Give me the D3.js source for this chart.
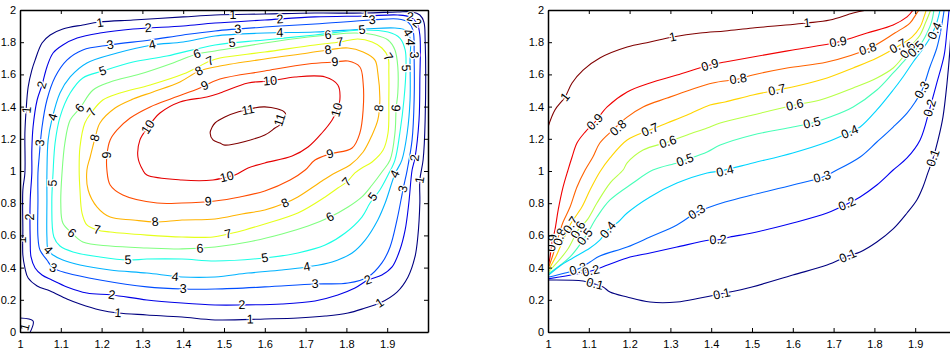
<!DOCTYPE html>
<html>
<head>
<meta charset="utf-8">
<script src="https://cdnjs.cloudflare.com/ajax/libs/d3/7.8.5/d3.min.js"></script>
<style>
  body { margin: 0; background: #fff; }
  text { font-family: "Liberation Sans", Arial, Helvetica, sans-serif; }
</style>
</head>
<body>
<script>
// ticks shared by both panels
var xTicks = [1, 1.1, 1.2, 1.3, 1.4, 1.5, 1.6, 1.7, 1.8, 1.9, 2];
var xTickLabels = ["1", "1.1", "1.2", "1.3", "1.4", "1.5", "1.6", "1.7", "1.8", "1.9", ""];
var yTicks = [0, 0.2, 0.4, 0.6, 0.8, 1, 1.2, 1.4, 1.6, 1.8, 2];
var yTickLabels = ["0", "0.2", "0.4", "0.6", "0.8", "1", "1.2", "1.4", "1.6", "1.8", "2"];

// left panel contour lines (x, y), all closed loops
var left1 = [[1.012,0.988],[1.012,1.236],[1.015,1.379],[1.020,1.522],[1.029,1.627],[1.037,1.689],[1.054,1.795],[1.074,1.845],[1.105,1.882],[1.154,1.907],[1.196,1.925],[1.277,1.938],[1.400,1.957],[1.478,1.969],[1.600,1.975],[1.723,1.981],[1.846,1.981],[1.926,1.988],[1.961,1.988],[1.980,1.969],[1.990,1.925],[1.993,1.814],[1.993,1.317],[1.988,1.068],[1.980,0.944],[1.980,0.801],[1.975,0.590],[1.968,0.466],[1.951,0.342],[1.924,0.248],[1.882,0.180],[1.846,0.149],[1.804,0.118],[1.748,0.099],[1.681,0.087],[1.600,0.081],[1.478,0.075],[1.397,0.093],[1.311,0.106],[1.240,0.118],[1.196,0.137],[1.147,0.174],[1.115,0.205],[1.074,0.255],[1.042,0.286],[1.020,0.335],[1.012,0.398],[1.007,0.478],[1.007,0.634],[1.007,0.882]];
var left1corner = [[1.000,0.087],[1.032,0.068],[1.025,0.000]];
var left2 = [[1.029,0.988],[1.029,1.130],[1.032,1.273],[1.042,1.441],[1.054,1.534],[1.066,1.646],[1.081,1.733],[1.105,1.783],[1.140,1.826],[1.196,1.857],[1.277,1.882],[1.400,1.901],[1.478,1.919],[1.600,1.938],[1.723,1.957],[1.846,1.963],[1.926,1.969],[1.956,1.957],[1.973,1.919],[1.980,1.845],[1.980,1.565],[1.978,1.317],[1.968,1.081],[1.961,1.006],[1.953,0.801],[1.944,0.634],[1.931,0.509],[1.912,0.404],[1.887,0.354],[1.853,0.323],[1.821,0.273],[1.779,0.230],[1.723,0.193],[1.642,0.174],[1.544,0.168],[1.478,0.168],[1.397,0.180],[1.311,0.199],[1.225,0.230],[1.164,0.242],[1.115,0.280],[1.078,0.323],[1.054,0.354],[1.037,0.398],[1.027,0.466],[1.025,0.571],[1.025,0.820]];
var left3 = [[1.044,0.988],[1.047,1.087],[1.054,1.273],[1.066,1.441],[1.086,1.584],[1.115,1.689],[1.154,1.752],[1.221,1.783],[1.319,1.814],[1.400,1.845],[1.478,1.870],[1.600,1.894],[1.723,1.913],[1.863,1.938],[1.926,1.944],[1.951,1.925],[1.963,1.876],[1.966,1.702],[1.966,1.441],[1.961,1.193],[1.949,1.006],[1.939,0.888],[1.924,0.696],[1.907,0.528],[1.887,0.429],[1.853,0.342],[1.804,0.304],[1.723,0.298],[1.600,0.280],[1.478,0.267],[1.400,0.267],[1.311,0.280],[1.196,0.323],[1.115,0.366],[1.081,0.398],[1.066,0.447],[1.049,0.509],[1.044,0.590],[1.044,0.820]];
var left4 = [[1.066,0.988],[1.069,1.193],[1.078,1.317],[1.098,1.484],[1.123,1.584],[1.164,1.671],[1.238,1.733],[1.324,1.783],[1.400,1.801],[1.478,1.839],[1.600,1.857],[1.723,1.863],[1.846,1.882],[1.919,1.888],[1.944,1.876],[1.956,1.826],[1.956,1.689],[1.956,1.441],[1.949,1.236],[1.936,1.068],[1.919,0.981],[1.895,0.801],[1.877,0.696],[1.846,0.571],[1.814,0.491],[1.765,0.435],[1.703,0.404],[1.642,0.385],[1.559,0.366],[1.478,0.342],[1.397,0.342],[1.311,0.366],[1.221,0.385],[1.147,0.416],[1.105,0.447],[1.081,0.478],[1.069,0.509],[1.066,0.590],[1.066,0.820]];
var left5 = [[1.081,0.988],[1.086,1.174],[1.098,1.335],[1.123,1.484],[1.154,1.578],[1.203,1.621],[1.277,1.677],[1.360,1.714],[1.478,1.783],[1.600,1.814],[1.723,1.845],[1.838,1.876],[1.902,1.863],[1.931,1.826],[1.944,1.752],[1.946,1.640],[1.941,1.441],[1.931,1.236],[1.919,1.068],[1.902,0.975],[1.882,0.882],[1.858,0.801],[1.838,0.714],[1.797,0.615],[1.748,0.540],[1.681,0.491],[1.600,0.460],[1.478,0.441],[1.397,0.453],[1.311,0.453],[1.265,0.447],[1.196,0.466],[1.130,0.497],[1.098,0.534],[1.083,0.590],[1.078,0.801]];
var left6 = [[1.103,0.988],[1.110,1.174],[1.123,1.317],[1.147,1.391],[1.179,1.503],[1.221,1.553],[1.294,1.602],[1.375,1.671],[1.434,1.727],[1.478,1.745],[1.600,1.795],[1.706,1.832],[1.755,1.845],[1.821,1.857],[1.870,1.845],[1.902,1.814],[1.919,1.752],[1.926,1.646],[1.926,1.484],[1.922,1.391],[1.919,1.236],[1.907,1.068],[1.887,0.994],[1.863,0.913],[1.838,0.839],[1.804,0.776],[1.760,0.714],[1.706,0.658],[1.642,0.609],[1.559,0.559],[1.478,0.528],[1.397,0.516],[1.311,0.522],[1.221,0.534],[1.154,0.559],[1.127,0.615],[1.105,0.677],[1.100,0.801]];
var left7 = [[1.145,1.006],[1.147,1.149],[1.159,1.298],[1.176,1.366],[1.203,1.441],[1.245,1.484],[1.319,1.534],[1.400,1.602],[1.466,1.683],[1.490,1.702],[1.600,1.739],[1.723,1.783],[1.784,1.801],[1.828,1.820],[1.863,1.801],[1.887,1.764],[1.902,1.708],[1.904,1.609],[1.904,1.441],[1.902,1.236],[1.890,1.130],[1.863,1.056],[1.838,1.019],[1.821,0.988],[1.801,0.932],[1.779,0.894],[1.748,0.839],[1.681,0.739],[1.600,0.671],[1.551,0.634],[1.510,0.609],[1.473,0.590],[1.397,0.590],[1.311,0.602],[1.221,0.621],[1.189,0.634],[1.164,0.665],[1.152,0.739],[1.147,0.882]];
var left8 = [[1.164,1.006],[1.172,1.087],[1.184,1.205],[1.196,1.298],[1.233,1.391],[1.277,1.447],[1.326,1.491],[1.392,1.553],[1.439,1.621],[1.490,1.652],[1.600,1.696],[1.706,1.733],[1.755,1.752],[1.804,1.764],[1.841,1.739],[1.870,1.689],[1.877,1.609],[1.882,1.441],[1.877,1.317],[1.863,1.224],[1.841,1.118],[1.809,1.037],[1.772,0.988],[1.740,0.938],[1.681,0.839],[1.650,0.801],[1.600,0.758],[1.544,0.733],[1.478,0.702],[1.397,0.696],[1.331,0.683],[1.277,0.696],[1.221,0.714],[1.189,0.776],[1.167,0.882]];
var left9 = [[1.213,1.006],[1.213,1.099],[1.221,1.193],[1.238,1.255],[1.270,1.329],[1.319,1.398],[1.375,1.453],[1.441,1.516],[1.490,1.571],[1.600,1.621],[1.706,1.665],[1.772,1.677],[1.804,1.683],[1.833,1.646],[1.841,1.547],[1.841,1.379],[1.833,1.236],[1.814,1.143],[1.760,1.106],[1.723,1.068],[1.699,1.006],[1.662,0.944],[1.600,0.876],[1.539,0.839],[1.478,0.814],[1.397,0.801],[1.336,0.801],[1.252,0.851],[1.221,0.913]];
var left10 = [[1.301,1.006],[1.289,1.087],[1.294,1.193],[1.314,1.273],[1.343,1.360],[1.392,1.429],[1.458,1.460],[1.490,1.484],[1.559,1.547],[1.613,1.559],[1.674,1.584],[1.748,1.584],[1.779,1.534],[1.784,1.441],[1.777,1.379],[1.765,1.317],[1.740,1.236],[1.706,1.149],[1.667,1.093],[1.600,1.050],[1.559,1.019],[1.527,0.975],[1.507,0.963],[1.473,0.944],[1.397,0.944],[1.311,0.975]];
var left11 = [[1.471,1.273],[1.478,1.298],[1.502,1.335],[1.534,1.366],[1.600,1.398],[1.650,1.360],[1.642,1.298],[1.625,1.267],[1.600,1.224],[1.502,1.161],[1.490,1.174],[1.473,1.193],[1.466,1.236]];

// left panel inline labels: level, x, y
var leftLabels = [
  [1,1.196,1.919],[1,1.522,1.969],[1,1.846,1.981],[1,1.017,1.379],[1,1.005,0.571],[1,1.980,0.944],[1,1.882,0.180],[1,1.564,0.078],[1,1.240,0.118],[1,1.012,0.030],
  [2,1.314,1.888],[2,1.637,1.943],[2,1.956,1.957],[2,1.973,1.919],[2,1.054,1.534],[2,1.025,0.714],[2,1.225,0.230],[2,1.544,0.168],[2,1.853,0.323],[2,1.968,1.081],
  [3,1.221,1.783],[3,1.534,1.880],[3,1.863,1.938],[3,1.966,1.720],[3,1.049,1.174],[3,1.081,0.398],[3,1.400,0.267],[3,1.723,0.298],[3,1.939,0.888],
  [4,1.324,1.783],[4,1.637,1.859],[4,1.950,1.860],[4,1.956,1.800],[4,1.081,1.335],[4,1.069,0.509],[4,1.380,0.342],[4,1.703,0.404],[4,1.919,0.981],
  [5,1.203,1.621],[5,1.520,1.795],[5,1.838,1.876],[5,1.946,1.640],[5,1.080,0.925],[5,1.265,0.447],[5,1.600,0.460],[5,1.865,0.839],
  [6,1.147,1.391],[6,1.434,1.727],[6,1.755,1.845],[6,1.922,1.391],[6,1.127,0.615],[6,1.441,0.519],[6,1.760,0.714],
  [7,1.176,1.366],[7,1.466,1.683],[7,1.784,1.801],[7,1.902,1.708],[7,1.801,0.932],[7,1.510,0.609],[7,1.189,0.634],
  [8,1.184,1.205],[8,1.439,1.621],[8,1.755,1.752],[8,1.880,1.391],[8,1.650,0.801],[8,1.331,0.683],
  [9,1.213,1.099],[9,1.453,1.530],[9,1.772,1.677],[9,1.760,1.106],[9,1.461,0.810],
  [10,1.314,1.273],[10,1.613,1.559],[10,1.777,1.379],[10,1.507,0.963],
  [11,1.559,1.379],[11,1.637,1.317]
];

// right panel contour lines, all start on the left wall
var right10 = [[1.000,1.273],[1.017,1.379],[1.042,1.460],[1.059,1.547],[1.086,1.627],[1.127,1.702],[1.194,1.770],[1.250,1.801],[1.306,1.832],[1.373,1.857],[1.434,1.870],[1.502,1.888],[1.635,1.919],[1.691,1.938],[1.748,1.981],[1.782,2.000]];
var right09 = [[1.000,0.400],[1.005,0.466],[1.010,0.559],[1.017,0.634],[1.025,0.758],[1.037,0.901],[1.049,1.006],[1.059,1.087],[1.071,1.174],[1.091,1.242],[1.115,1.304],[1.145,1.398],[1.194,1.491],[1.250,1.547],[1.316,1.596],[1.397,1.658],[1.434,1.677],[1.502,1.708],[1.600,1.752],[1.711,1.801],[1.782,1.857],[1.846,1.907],[1.880,1.957],[1.895,2.000]];
var right08 = [[1.000,0.390],[1.012,0.478],[1.025,0.590],[1.037,0.683],[1.054,0.776],[1.071,0.901],[1.091,1.006],[1.110,1.087],[1.127,1.174],[1.159,1.255],[1.194,1.335],[1.233,1.398],[1.292,1.453],[1.348,1.503],[1.404,1.547],[1.466,1.571],[1.502,1.596],[1.586,1.640],[1.684,1.677],[1.784,1.758],[1.850,1.857],[1.887,1.919],[1.904,1.981],[1.910,2.000]];
var right07 = [[1.000,0.380],[1.020,0.472],[1.034,0.553],[1.054,0.665],[1.083,0.776],[1.103,0.882],[1.127,0.994],[1.152,1.081],[1.194,1.193],[1.250,1.255],[1.292,1.298],[1.341,1.348],[1.397,1.410],[1.434,1.429],[1.502,1.472],[1.561,1.503],[1.610,1.528],[1.684,1.578],[1.748,1.640],[1.806,1.702],[1.863,1.783],[1.892,1.832],[1.912,1.894],[1.922,1.960],[1.927,2.000]];
var right06 = [[1.000,0.370],[1.047,0.509],[1.074,0.634],[1.096,0.696],[1.120,0.801],[1.152,0.925],[1.184,1.006],[1.194,1.050],[1.233,1.130],[1.294,1.180],[1.341,1.224],[1.390,1.267],[1.422,1.298],[1.502,1.348],[1.605,1.410],[1.667,1.441],[1.748,1.516],[1.806,1.578],[1.846,1.640],[1.870,1.708],[1.892,1.783],[1.912,1.845],[1.926,1.925],[1.938,2.000]];
var right05 = [[1.000,0.360],[1.054,0.466],[1.091,0.590],[1.120,0.714],[1.152,0.820],[1.208,0.925],[1.257,1.006],[1.316,1.050],[1.336,1.068],[1.390,1.118],[1.422,1.161],[1.502,1.224],[1.600,1.273],[1.647,1.298],[1.691,1.335],[1.748,1.398],[1.806,1.503],[1.846,1.609],[1.880,1.702],[1.912,1.783],[1.929,1.857],[1.940,1.925],[1.946,2.000]];
var right04 = [[1.000,0.350],[1.029,0.410],[1.061,0.460],[1.103,0.522],[1.127,0.571],[1.147,0.634],[1.172,0.683],[1.194,0.739],[1.250,0.839],[1.316,0.925],[1.390,0.988],[1.422,1.000],[1.502,1.050],[1.600,1.112],[1.684,1.180],[1.740,1.242],[1.765,1.273],[1.806,1.379],[1.846,1.503],[1.870,1.584],[1.895,1.677],[1.917,1.752],[1.936,1.826],[1.951,1.907],[1.961,2.000]];
var right03 = [[1.000,0.340],[1.042,0.366],[1.074,0.391],[1.103,0.435],[1.127,0.472],[1.194,0.528],[1.250,0.590],[1.316,0.665],[1.365,0.745],[1.397,0.776],[1.434,0.807],[1.500,0.851],[1.600,0.913],[1.674,0.963],[1.699,0.994],[1.765,1.087],[1.806,1.180],[1.846,1.273],[1.880,1.360],[1.900,1.429],[1.917,1.503],[1.936,1.646],[1.953,1.764],[1.963,1.876],[1.971,2.000]];
var right02 = [[1.000,0.330],[1.071,0.360],[1.105,0.379],[1.127,0.398],[1.194,0.460],[1.250,0.491],[1.316,0.528],[1.397,0.571],[1.422,0.575],[1.446,0.590],[1.500,0.615],[1.600,0.677],[1.684,0.739],[1.733,0.795],[1.765,0.839],[1.806,0.913],[1.846,1.006],[1.880,1.081],[1.912,1.193],[1.936,1.391],[1.953,1.547],[1.971,1.720],[1.978,1.876],[1.983,2.000]];
var right01 = [[1.000,0.323],[1.086,0.317],[1.115,0.298],[1.135,0.280],[1.152,0.248],[1.194,0.217],[1.250,0.186],[1.316,0.186],[1.373,0.211],[1.422,0.236],[1.500,0.280],[1.600,0.354],[1.684,0.416],[1.735,0.472],[1.765,0.497],[1.806,0.559],[1.846,0.640],[1.880,0.739],[1.904,0.820],[1.919,0.901],[1.931,0.988],[1.944,1.081],[1.956,1.193],[1.968,1.335],[1.978,1.547],[1.985,1.752],[1.990,2.000]];

// right panel inline labels: level, x, y
var rightLabels = [
  [1,1.042,1.460],[1,1.306,1.832],[1,1.635,1.919],
  [0.9,1.115,1.304],[0.9,1.397,1.658],[0.9,1.711,1.801],[0.9,1.010,0.553],
  [0.8,1.172,1.267],[0.8,1.466,1.571],[0.8,1.784,1.758],[0.8,1.029,0.590],
  [0.7,1.250,1.255],[0.7,1.561,1.503],[0.7,1.858,1.775],[0.7,1.056,0.665],
  [0.6,1.294,1.180],[0.6,1.605,1.410],[0.6,1.882,1.750],[0.6,1.074,0.634],
  [0.5,1.336,1.068],[0.5,1.647,1.298],[0.5,1.902,1.757],[0.5,1.091,0.590],
  [0.4,1.147,0.634],[0.4,1.434,1.000],[0.4,1.740,1.242],[0.4,1.948,1.870],
  [0.3,1.074,0.391],[0.3,1.365,0.745],[0.3,1.672,0.963],[0.3,1.917,1.503],
  [0.2,1.105,0.379],[0.2,1.417,0.573],[0.2,1.733,0.795],[0.2,1.936,1.391],
  [0.1,1.115,0.298],[0.1,1.426,0.236],[0.1,1.735,0.472],[0.1,1.944,1.081]
];

// tables for drawing
var leftLines = [
  {level: 1, pts: left1, closed: true}, {level: 1, pts: left1corner, closed: false},
  {level: 2, pts: left2, closed: true}, {level: 3, pts: left3, closed: true},
  {level: 4, pts: left4, closed: true}, {level: 5, pts: left5, closed: true},
  {level: 6, pts: left6, closed: true}, {level: 7, pts: left7, closed: true},
  {level: 8, pts: left8, closed: true}, {level: 9, pts: left9, closed: true},
  {level: 10, pts: left10, closed: true}, {level: 11, pts: left11, closed: true}
];
var rightLines = [
  {level: 1, pts: right10}, {level: 0.9, pts: right09}, {level: 0.8, pts: right08},
  {level: 0.7, pts: right07}, {level: 0.6, pts: right06}, {level: 0.5, pts: right05},
  {level: 0.4, pts: right04}, {level: 0.3, pts: right03}, {level: 0.2, pts: right02},
  {level: 0.1, pts: right01}
];

// matlab jet colormap, spread over the contour levels of a panel
function jet(t) {
  function c(v) { return Math.max(0, Math.min(1, v)) * 255; }
  return d3.rgb(c(1.5 - Math.abs(4 * t - 3)), c(1.5 - Math.abs(4 * t - 2)), c(1.5 - Math.abs(4 * t - 1))).toString();
}

var width = 950, height = 350;
var plotTop = 10, plotBottom = 332, plotW = 408;
var fontFamily = '"Liberation Sans", Arial, Helvetica, sans-serif';

var svg = d3.select("body")
  .append("svg")
  .attr("width", width)
  .attr("height", height);

drawPanel("left", 20, leftLines, leftLabels, d3.scaleLinear().domain([1, 11]).range([0, 1]));
drawPanel("right", 548, rightLines, rightLabels, d3.scaleLinear().domain([0.1, 1]).range([0, 1]));

function drawPanel(name, x0, lines, labels, tScale) {
  var x = d3.scaleLinear().domain([1, 2]).range([x0, x0 + plotW]);
  var y = d3.scaleLinear().domain([0, 2]).range([plotBottom, plotTop]);

  svg.append("clipPath")
    .attr("id", "clip-" + name)
    .append("rect")
    .attr("x", x0).attr("y", plotTop)
    .attr("width", plotW).attr("height", plotBottom - plotTop);

  var g = svg.append("g").attr("clip-path", "url(#clip-" + name + ")");

  // contour lines
  g.selectAll("path.contour")
    .data(lines)
    .enter()
    .append("path")
    .attr("class", "contour")
    .attr("fill", "none")
    .attr("stroke", function(d) { return jet(tScale(d.level)); })
    .attr("stroke-width", 1.1)
    .attr("d", function(d) {
      var line = d3.line()
        .x(function(p) { return x(p[0]); })
        .y(function(p) { return y(p[1]); })
        .curve(d.closed ? d3.curveCatmullRomClosed.alpha(0.5) : d3.curveCatmullRom.alpha(0.5));
      return line(d.pts);
    });

  // inline labels, turned along the nearest segment of their own level
  g.selectAll("text.clabel")
    .data(labels)
    .enter()
    .append("text")
    .attr("class", "clabel")
    .attr("text-anchor", "middle")
    .attr("dominant-baseline", "central")
    .attr("font-size", 12.5)
    .attr("fill", "#000")
    .attr("stroke", "#fff")
    .attr("stroke-width", 2.5)
    .attr("paint-order", "stroke")
    .attr("transform", function(d) {
      var px = x(d[1]), py = y(d[2]);
      return "translate(" + px + "," + py + ") rotate(" + labelAngle(px, py, d[0], lines, x, y) + ")";
    })
    .text(function(d) { return String(d[0]); });

  // axes with inward ticks on all four sides
  var bottomAxis = svg.append("g")
    .attr("transform", "translate(0," + plotBottom + ")")
    .call(d3.axisBottom(x).tickValues(xTicks).tickSizeInner(-4).tickSizeOuter(0).tickPadding(8)
      .tickFormat(function(d, i) { return xTickLabels[i]; }));
  var leftAxis = svg.append("g")
    .attr("transform", "translate(" + x0 + ",0)")
    .call(d3.axisLeft(y).tickValues(yTicks).tickSizeInner(-4).tickSizeOuter(0).tickPadding(4)
      .tickFormat(function(d, i) { return yTickLabels[i]; }));
  var topAxis = svg.append("g")
    .attr("transform", "translate(0," + plotTop + ")")
    .call(d3.axisTop(x).tickValues(xTicks).tickSizeInner(-4).tickSizeOuter(0).tickFormat(""));
  var rightAxis = svg.append("g")
    .attr("transform", "translate(" + (x0 + plotW) + ",0)")
    .call(d3.axisRight(y).tickValues(yTicks).tickSizeInner(-4).tickSizeOuter(0).tickFormat(""));

  [bottomAxis, leftAxis, topAxis, rightAxis].forEach(function(a) {
    a.attr("font-size", 11).attr("font-family", fontFamily);
    a.select(".domain").attr("stroke", "#000").attr("stroke-width", 1.5);
    a.selectAll(".tick line").attr("stroke", "#000");
    a.selectAll(".tick text").attr("fill", "#000");
  });
}

// angle of the closest segment of a contour with the same level
function labelAngle(px, py, level, lines, x, y) {
  var best = Infinity, angle = 0;
  lines.forEach(function(l) {
    if (l.level !== level) return;
    var n = l.pts.length, segs = l.closed ? n : n - 1;
    for (var i = 0; i < segs; i++) {
      var a = l.pts[i], b = l.pts[(i + 1) % n];
      var ax = x(a[0]), ay = y(a[1]), bx = x(b[0]), by = y(b[1]);
      var dx = bx - ax, dy = by - ay, len2 = dx * dx + dy * dy || 1;
      var t = Math.max(0, Math.min(1, ((px - ax) * dx + (py - ay) * dy) / len2));
      var qx = ax + t * dx - px, qy = ay + t * dy - py;
      var dist = qx * qx + qy * qy;
      if (dist < best) {
        best = dist;
        angle = Math.atan2(dy, dx) * 180 / Math.PI;
      }
    }
  });
  if (angle > 90) angle -= 180;
  if (angle < -90) angle += 180;
  return angle;
}
</script>
</body>
</html>
